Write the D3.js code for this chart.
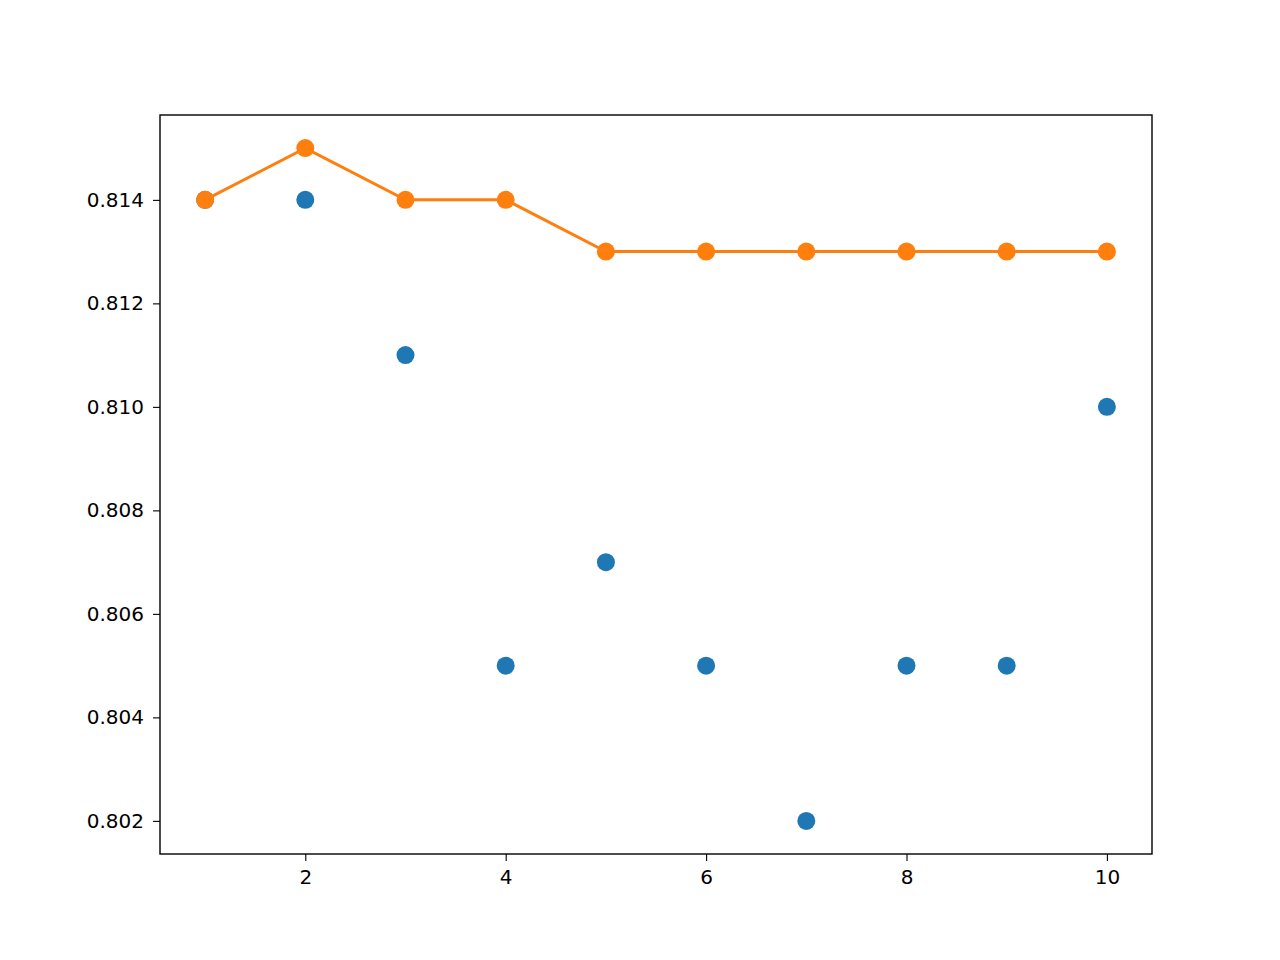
<!DOCTYPE html>
<html>
<head>
<meta charset="utf-8">
<script src="https://cdn.jsdelivr.net/npm/d3@7"></script>
<style>
body { margin: 0; background: #fff; }
text { font-family: "DejaVu Sans", sans-serif; }
</style>
</head>
<body>
<svg id="chart" width="1280" height="960"></svg>
<script>
// data
var steps = [1, 2, 3, 4, 5, 6, 7, 8, 9, 10];
var scatterVals = [0.814, 0.814, 0.811, 0.805, 0.807, 0.805, 0.802, 0.805, 0.805, 0.810];
var bestVals = [0.814, 0.815, 0.814, 0.814, 0.813, 0.813, 0.813, 0.813, 0.813, 0.813];
var xTicks = [2, 4, 6, 8, 10];
var yTicks = [0.802, 0.804, 0.806, 0.808, 0.810, 0.812, 0.814];

var svg = d3.select('#chart'),
    plotL = 160, plotR = 1152, plotT = 115, plotB = 854;

var x = d3.scaleLinear().domain([0.55, 10.45]).range([plotL, plotR]);
var y = d3.scaleLinear().domain([0.80136, 0.81564]).range([plotB, plotT]);

// axes
var xAxis = svg.append('g').attr('transform', 'translate(0,' + plotB + ')')
  .call(d3.axisBottom(x).tickValues(xTicks).tickSize(7).tickPadding(9).tickFormat(d3.format('d')));
var yAxis = svg.append('g').attr('transform', 'translate(' + plotL + ',0)')
  .call(d3.axisLeft(y).tickValues(yTicks).tickSize(7).tickPadding(9).tickFormat(d3.format('.3f')));
[xAxis, yAxis].forEach(function(a) {
  a.select('.domain').remove();
  a.selectAll('text').style('font-size', '20px').attr('fill', '#000');
  a.selectAll('line').attr('stroke', '#000').attr('stroke-width', 1.1);
});

svg.append('rect').attr('x', plotL).attr('y', plotT)
  .attr('width', plotR - plotL).attr('height', plotB - plotT)
  .attr('fill', 'none').attr('stroke', '#000').attr('stroke-width', 1.4);

// blue scatter
svg.append('g').selectAll('circle').data(steps).enter().append('circle')
  .attr('cx', function(d) { return x(d); })
  .attr('cy', function(d, i) { return y(scatterVals[i]); })
  .attr('r', 9).attr('fill', '#1f77b4');

// orange line with markers
var line = d3.line().x(function(d) { return x(d); }).y(function(d, i) { return y(bestVals[i]); });
svg.append('path').datum(steps).attr('d', line)
  .attr('fill', 'none').attr('stroke', '#ff7f0e').attr('stroke-width', 3);
svg.append('g').selectAll('circle').data(steps).enter().append('circle')
  .attr('cx', function(d) { return x(d); })
  .attr('cy', function(d, i) { return y(bestVals[i]); })
  .attr('r', 9).attr('fill', '#ff7f0e');
</script>
</body>
</html>
